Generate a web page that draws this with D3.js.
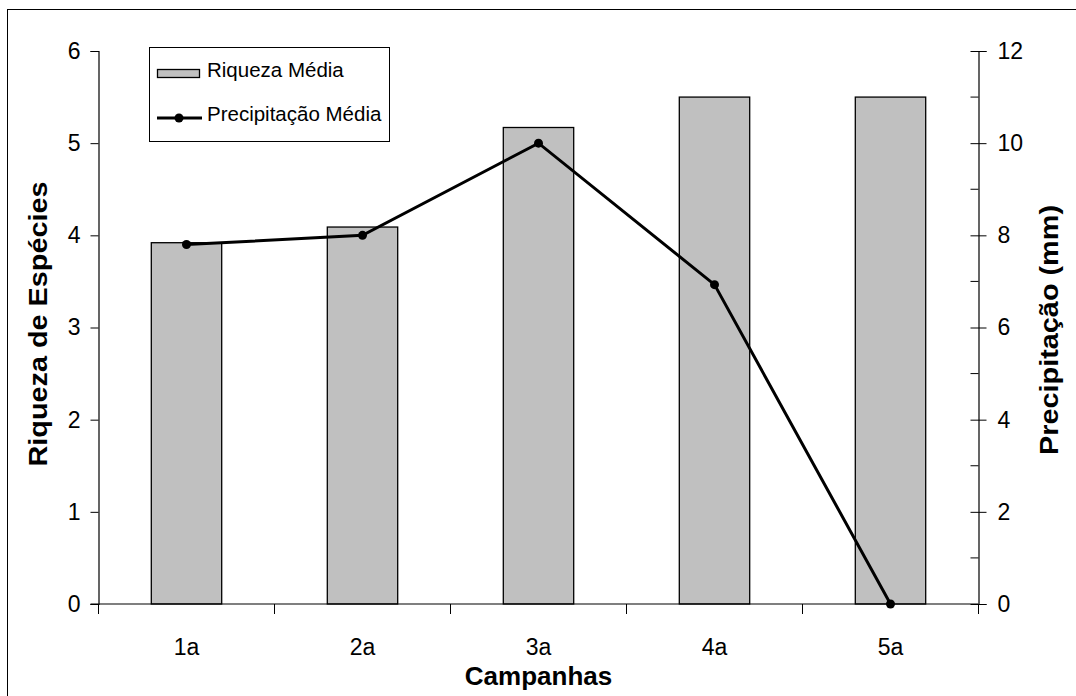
<!DOCTYPE html>
<html><head><meta charset="utf-8">
<script src="https://cdn.jsdelivr.net/npm/d3@7"></script>
<style>body{margin:0;background:#fff}svg{display:block;font-family:"Liberation Sans",Arial,sans-serif}</style>
</head><body>
<svg id="c" width="1076" height="696"></svg>
<script>
const categories = ["1a","2a","3a","4a","5a"];
const riqueza = [3.92, 4.09, 5.17, 5.5, 5.5];
const precipitacao = [7.8, 8.0, 10.0, 6.93, 0];
const leftTicks = [0,1,2,3,4,5,6];
const rightTicks = [0,2,4,6,8,10,12];
const rightMinor = [1,3,5,7,9,11];

const svg = d3.select("#c");
const L = 98.5, R = 978.5, T = 51, B = 604;

svg.append("rect").attr("x",7.5).attr("y",9.5).attr("width",1200).attr("height",800)
  .attr("fill","none").attr("stroke","#000").attr("stroke-width",1);

const x = d3.scaleBand().domain(categories).range([L,R]).paddingInner(0).paddingOuter(0);
const yL = d3.scaleLinear().domain([0,6]).range([B,T]);
const yR = d3.scaleLinear().domain([0,12]).range([B,T]);
const bw = x.bandwidth()*0.4;

// bars
svg.append("g").selectAll("rect").data(categories).join("rect")
  .attr("x", d => x(d)+x.bandwidth()/2 - bw/2)
  .attr("y", (d,i) => yL(riqueza[i]))
  .attr("width", bw)
  .attr("height", (d,i) => B - yL(riqueza[i]))
  .attr("fill","#c0c0c0").attr("stroke","#000").attr("stroke-width",1.3);

// left axis
const gl = svg.append("g").attr("transform",`translate(${L},0)`)
  .call(d3.axisLeft(yL).tickValues(leftTicks).tickSize(8).tickPadding(10).tickFormat(d3.format("d")));
// right axis
const gr = svg.append("g").attr("transform",`translate(${R},0)`)
  .call(d3.axisRight(yR).tickValues(rightTicks).tickSize(8).tickPadding(11).tickFormat(d3.format("d")));
gr.selectAll(".tick line").attr("x1",-8);
gr.append("g").selectAll("line").data(rightMinor).join("line")
  .attr("x1",-8).attr("x2",0).attr("y1",d=>yR(d)).attr("y2",d=>yR(d)).attr("stroke","#000");
// bottom axis
const gb = svg.append("g").attr("transform",`translate(0,${B})`)
  .call(d3.axisBottom(x).tickSize(0).tickPadding(35));
gb.append("g").selectAll("line").data(categories.concat(["_end"])).join("line")
  .attr("x1",(d,i)=>L + i*x.bandwidth()).attr("x2",(d,i)=>L + i*x.bandwidth())
  .attr("y1",0).attr("y2",10).attr("stroke","#000");

[gl,gr,gb].forEach(g=>{
  g.attr("font-size",23).attr("font-family","Liberation Sans, Arial, sans-serif");
  g.select(".domain").attr("stroke","#000").attr("stroke-width",1.2);
  g.selectAll(".tick line").attr("stroke","#000");
  g.selectAll("text").attr("font-size",23).attr("fill","#000");
});
gb.select(".domain").attr("d",`M${L-8},0H${R}`);

// line
const line = d3.line().x((d,i)=>x(categories[i])+x.bandwidth()/2).y(d=>yR(d));
svg.append("path").datum(precipitacao).attr("d",line).attr("fill","none")
  .attr("stroke","#000").attr("stroke-width",3);
svg.append("g").selectAll("circle").data(precipitacao).join("circle")
  .attr("cx",(d,i)=>x(categories[i])+x.bandwidth()/2).attr("cy",d=>yR(d)).attr("r",4.5).attr("fill","#000");

// titles
svg.append("text").attr("transform",`translate(47,324) rotate(-90)`).attr("text-anchor","middle")
  .attr("font-size",26).attr("font-weight","bold")
  .attr("textLength",285).attr("lengthAdjust","spacingAndGlyphs").text("Riqueza de Espécies");
svg.append("text").attr("transform",`translate(1058,330) rotate(-90)`).attr("text-anchor","middle")
  .attr("font-size",26).attr("font-weight","bold")
  .attr("textLength",250).attr("lengthAdjust","spacingAndGlyphs").text("Precipitação (mm)");
svg.append("text").attr("x",(L+R)/2).attr("y",685).attr("text-anchor","middle")
  .attr("font-size",26).attr("font-weight","bold").text("Campanhas");

// legend
const lg = svg.append("g");
lg.append("rect").attr("x",149.5).attr("y",47.5).attr("width",240).attr("height",94)
  .attr("fill","#fff").attr("stroke","#000").attr("stroke-width",1);
lg.append("rect").attr("x",157.5).attr("y",69.5).attr("width",42).attr("height",8)
  .attr("fill","#c0c0c0").attr("stroke","#000").attr("stroke-width",1.3);
lg.append("text").attr("x",207).attr("y",77).attr("font-size",20.5).text("Riqueza Média");
lg.append("line").attr("x1",157).attr("x2",202).attr("y1",118).attr("y2",118).attr("stroke","#000").attr("stroke-width",3);
lg.append("circle").attr("cx",179).attr("cy",118).attr("r",4.5).attr("fill","#000");
lg.append("text").attr("x",207).attr("y",121).attr("font-size",20.5).text("Precipitação Média");
</script>
</body></html>
